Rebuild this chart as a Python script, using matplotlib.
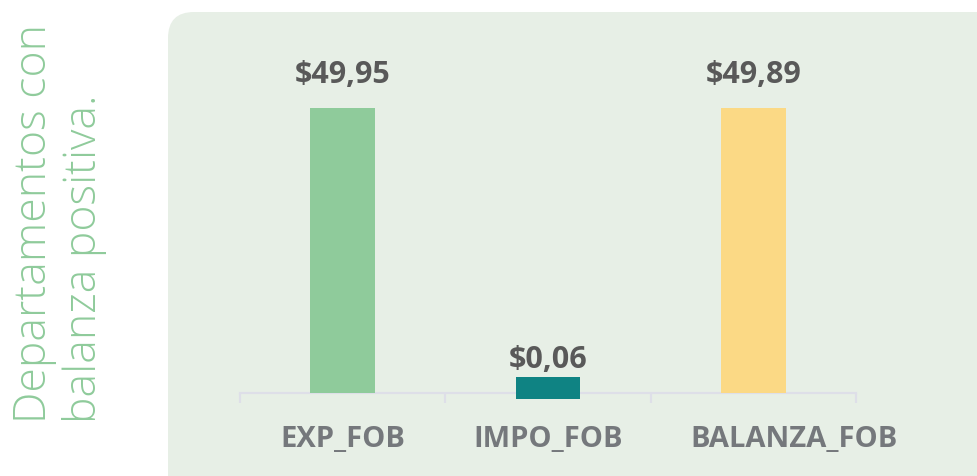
"""Departamentos con balanza positiva: exportaciones, importaciones y balanza FOB."""

import matplotlib.pyplot as plt
from matplotlib.patches import FancyBboxPatch

categories = ["EXP_FOB", "IMPO_FOB", "BALANZA_FOB"]
values = [49.95, 0.06, 49.89]
value_labels = ["$49,95", "$0,06", "$49,89"]
colors = ["#8fcb9b", "#0f8383", "#fbd985"]

TITLE = "Departamentos con\nbalanza positiva."
PANEL = "#e7efe6"
W, H = 977, 476


def main() -> None:
    fig = plt.figure(figsize=(W / 100, H / 100), dpi=100)
    fig.patch.set_facecolor("white")

    # rounded panel behind the chart (pixel coords)
    fig.patches.append(FancyBboxPatch((168, -40), 860, 504,
                                      boxstyle="round,pad=0,rounding_size=26",
                                      transform=None, facecolor=PANEL,
                                      edgecolor="none", zorder=-5))

    ax = fig.add_axes([240 / W, 83 / H, 616 / W, 353 / H])
    ax.set_facecolor("none")
    ax.set_zorder(2)
    px = 285 / 49.95  # pixels per unit
    ax.set_xlim(-0.5, 2.5)
    ax.set_ylim(0, 353 / px)

    # tiny values get a visible stub so the bar is not lost
    shown = [v if v > 1 else 3.85 for v in values]
    bottoms = [0 if v > 1 else -1.05 for v in values]
    ax.bar(range(3), shown, bottom=bottoms, width=0.316, color=colors,
           zorder=3, clip_on=False)

    # the long last category label sits a little to the right in the original
    label_shift = [0, 0, 29]
    for i, (v, lab) in enumerate(zip(values, value_labels)):
        ax.annotate(lab, (i, v), xytext=(0, 18), textcoords="offset points",
                    ha="center", va="baseline", fontsize=22,
                    fontweight="bold", family="Open Sans", color="#595959")
        ax.annotate(categories[i], (i, 0), xycoords=ax.get_xaxis_transform(),
                    xytext=(label_shift[i], -39), textcoords="offset points",
                    ha="center", va="baseline", fontsize=21,
                    fontweight="bold", family="Open Sans", color="#75787c",
                    annotation_clip=False)

    ax.spines[["top", "right", "left"]].set_visible(False)
    ax.spines["bottom"].set_color("#dedfe8")
    ax.spines["bottom"].set_linewidth(1.6)
    ax.set_yticks([])
    ax.set_xticks([-0.5, 0.5, 1.5, 2.5])
    ax.set_xticklabels([])
    ax.tick_params(axis="x", length=7.5, width=1.6, color="#dedfe8",
                   direction="out")

    fig.text(60 / W, 1 - 423 / H, TITLE, rotation=90, ha="center",
             va="bottom", fontsize=32, fontweight="light", family="Open Sans",
             color="#8fcb9b", linespacing=1.15, multialignment="left")

    fig.savefig("out.png", dpi=100)


if __name__ == "__main__":
    main()
